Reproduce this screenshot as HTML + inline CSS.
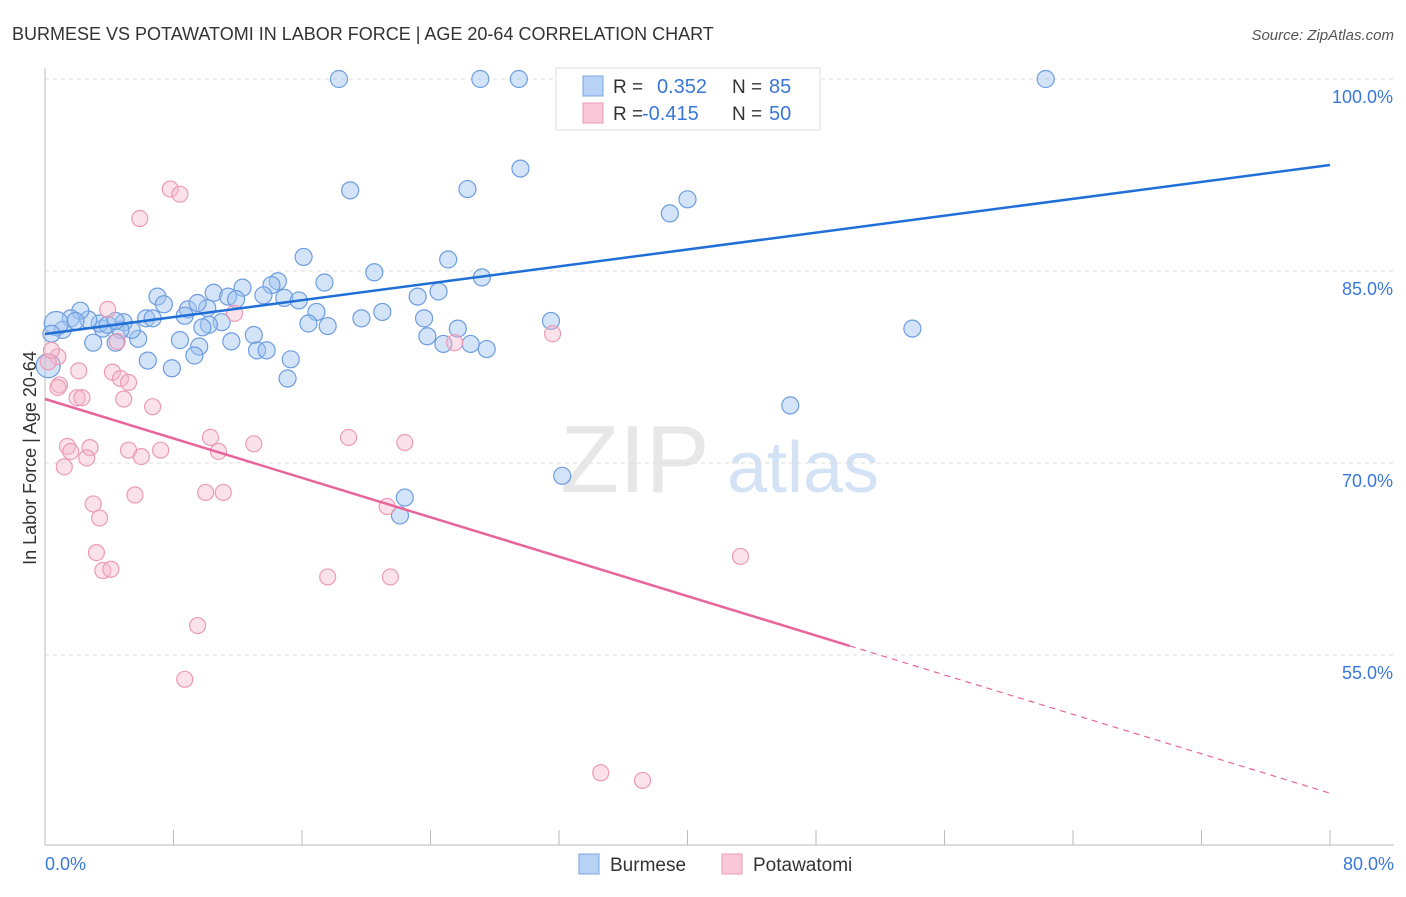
<!DOCTYPE html>
<html><head><meta charset="utf-8"><style>
body{margin:0;background:#fff;font-family:"Liberation Sans",sans-serif}
svg text{font-family:"Liberation Sans",sans-serif}
</style></head><body>
<svg id="chart" width="1406" height="892" viewBox="0 0 1406 892">
<text x="12" y="40" font-size="18" fill="#333">BURMESE VS POTAWATOMI IN LABOR FORCE | AGE 20-64 CORRELATION CHART</text>
<text x="1394" y="40" font-size="15" fill="#555" font-style="italic" text-anchor="end">Source: ZipAtlas.com</text>
<text x="36" y="458" font-size="18" fill="#333" text-anchor="middle" transform="rotate(-90 36 458)">In Labor Force | Age 20-64</text>
<g><text x="635" y="492" font-size="96" fill="#ddd" font-family="Liberation Serif" text-anchor="middle" opacity="0.7">ZIP</text><text x="803" y="492" font-size="72" fill="#c9dcf2" text-anchor="middle" opacity="0.8">atlas</text></g>
<g id="grid"></g><g id="axes"></g><g id="marks"></g><g id="lines"></g>
<g>
<rect x="556" y="68" width="264" height="62" fill="#fff" stroke="#ddd"/>
<rect x="583" y="76" width="20" height="20" fill="#b8d2f5" stroke="#7aa5e3"/>
<rect x="583" y="103" width="20" height="20" fill="#f9c8d8" stroke="#ec9ab6"/>
<text x="613" y="93" font-size="19" fill="#333">R =</text><text x="657" y="93" font-size="20" fill="#3a78d8">0.352</text>
<text x="732" y="93" font-size="19" fill="#333">N =</text><text x="769" y="93" font-size="20" fill="#3a78d8">85</text>
<text x="613" y="120" font-size="19" fill="#333">R =</text><text x="642" y="120" font-size="20" fill="#3a78d8">-0.415</text>
<text x="732" y="120" font-size="19" fill="#333">N =</text><text x="769" y="120" font-size="20" fill="#3a78d8">50</text>
</g>
<g>
<rect x="579" y="854" width="20" height="20" fill="#b8d2f5" stroke="#7aa5e3"/>
<text x="610" y="871" font-size="19" fill="#333">Burmese</text>
<rect x="722" y="854" width="20" height="20" fill="#f9c8d8" stroke="#ec9ab6"/>
<text x="753" y="871" font-size="19" fill="#333">Potawatomi</text>
</g>
</svg>
<script>
const yTicks=[100,85,70,55];
const yTickLabels=["100.0%","85.0%","70.0%","55.0%"];
const xEndLabels=["0.0%","80.0%"];
const burmeseX=[18.3,27.1,29.5,62.3,19.0,26.3,29.6,38.9,40.0,16.1,25.1,20.5,27.2,14.5,14.1,17.4,12.3,10.5,7.0,7.4,8.9,11.4,11.9,13.6,14.9,15.8,16.9,23.2,24.5,21.0,19.7,23.6,25.7,23.8,24.8,26.5,27.5,31.5,54.0,46.4,32.2,22.4,22.1,16.4,17.6,13.0,13.2,13.8,15.3,15.1,11.0,11.6,10.2,9.8,10.1,8.7,8.4,9.6,9.3,7.9,6.4,5.8,6.3,5.4,4.9,4.7,4.4,3.6,3.4,2.7,2.2,1.6,1.1,0.7,0.4,3.0,1.9,3.9,4.4,6.7,9.5,0.2,37.7];
const burmeseY=[100,100,100,100,91.3,91.4,93.0,89.5,90.6,86.1,85.9,84.9,84.5,84.2,83.9,84.1,83.7,83.3,83.0,82.4,82.0,83.0,82.8,83.1,82.9,82.7,81.8,83.0,83.4,81.8,81.3,81.3,80.5,79.9,79.3,79.3,78.9,81.1,80.5,74.5,69.0,67.3,65.9,80.9,80.7,80.0,78.8,78.8,78.1,76.6,81.0,79.5,80.8,80.6,82.1,81.5,79.6,79.1,78.4,77.4,78.0,79.7,81.3,80.4,81.0,80.4,79.4,80.5,80.9,81.2,81.9,81.3,80.4,80.9,80.1,79.4,81.1,80.8,81.1,81.3,82.5,77.6,97.3];
const potX=[7.8,8.4,5.9,3.9,11.8,0.8,0.2,2.1,0.9,2.0,2.3,4.2,4.7,5.2,4.9,6.7,1.4,1.6,2.8,2.6,5.2,6.0,7.2,10.3,10.8,13.0,18.9,22.4,1.2,5.6,10.0,11.1,3.0,3.4,21.3,3.2,3.6,4.1,17.6,21.5,43.3,9.5,8.7,34.6,37.2,25.5,31.6,4.5,0.4,0.8];
const potY=[91.4,91.0,89.1,82.0,81.7,78.3,77.9,77.2,76.1,75.1,75.1,77.1,76.6,76.3,75.0,74.4,71.3,70.9,71.2,70.4,71.0,70.5,71.0,72.0,70.9,71.5,72.0,71.6,69.7,67.5,67.7,67.7,66.8,65.7,66.6,63.0,61.6,61.7,61.1,61.1,62.7,57.3,53.1,45.8,45.2,79.4,80.1,79.5,78.8,75.9];
const burmeseTrend=[80.08,93.28];
const potTrend=[75.0,44.2];
const potSolidEnd=50.1;
const NS="http://www.w3.org/2000/svg";
const X0=45,X1=1330,Y100=79,PX=12.8;
const xs=v=>X0+v/80*(X1-X0);
const ys=v=>Y100+(100-v)*PX;
function mk(t,a,p){const e=document.createElementNS(NS,t);for(const k in a)e.setAttribute(k,a[k]);p.appendChild(e);return e;}
const grid=document.getElementById('grid'),axes=document.getElementById('axes'),marks=document.getElementById('marks'),lines=document.getElementById('lines');
yTicks.forEach((v,i)=>{
 const l=mk('line',{x1:X0,x2:1394,y1:ys(v),y2:ys(v),stroke:'#ddd','stroke-dasharray':'4,4'},grid);
 
 
 const t=mk('text',{x:1393,y:ys(v)+24,'font-size':18,fill:'#3a78d8','text-anchor':'end'},axes);
 t.textContent=yTickLabels[i];
 
 
});
const ax=mk('line',{x1:X0,x2:X0,y1:68,y2:845,stroke:'#bbb'},axes);


const bx=mk('line',{x1:X0,x2:1394,y1:845,y2:845,stroke:'#bbb'},axes);


for(let v=0;v<=80;v+=8){const t=mk('line',{x1:xs(v),x2:xs(v),y1:830,y2:845,stroke:'#bbb'},axes);
 
 }
[[0,'start'],[80,'end']].forEach((p,i)=>{const t=mk('text',{x:i?1394:45,y:870,'font-size':18,fill:'#3a78d8','text-anchor':p[1]},axes);t.textContent=xEndLabels[i];
 
 });
burmeseX.forEach((x,i)=>{const r=(x<1&&(burmeseY[i]<78||burmeseY[i]>80.5))?12:8.5;
 const c=mk('circle',{cx:xs(x),cy:ys(burmeseY[i]),r:r,fill:'rgba(160,196,240,0.45)',stroke:'#6d9de0','stroke-width':1.2},marks);
 
 });
potX.forEach((x,i)=>{const c=mk('circle',{cx:xs(x),cy:ys(potY[i]),r:8,fill:'rgba(246,182,202,0.4)',stroke:'#ec9ab6','stroke-width':1.2},marks);
 
 });
const bl=mk('line',{x1:xs(0),y1:ys(burmeseTrend[0]),x2:xs(80),y2:ys(burmeseTrend[1]),stroke:'#1f6fd6','stroke-width':2.5},lines);


const py=v=>potTrend[0]+(potTrend[1]-potTrend[0])*v/80;
const pl=mk('line',{x1:xs(0),y1:ys(potTrend[0]),x2:xs(potSolidEnd),y2:ys(py(potSolidEnd)),stroke:'#e8659a','stroke-width':2.5},lines);


const pd=mk('line',{x1:xs(potSolidEnd),y1:ys(py(potSolidEnd)),x2:xs(80),y2:ys(potTrend[1]),stroke:'#e8659a','stroke-width':1.2,'stroke-dasharray':'6,5'},lines);


</script>
</body></html>
